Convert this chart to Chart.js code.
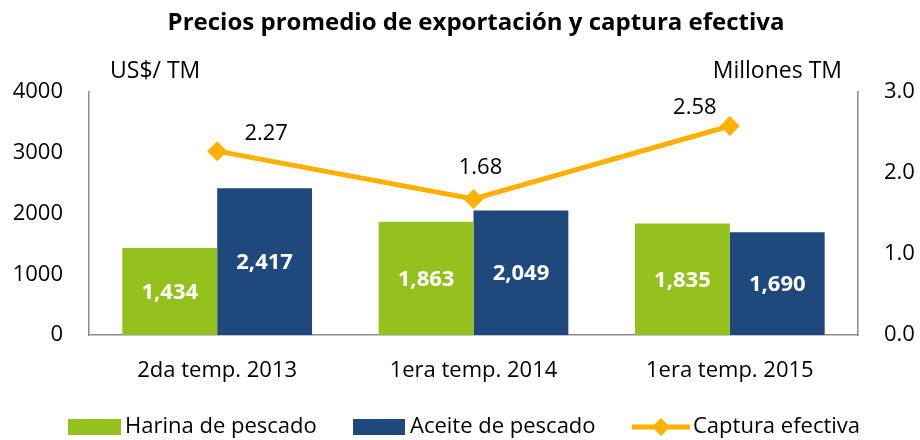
<!DOCTYPE html>
<html>
<head>
<meta charset="utf-8">
<script src="https://cdn.jsdelivr.net/npm/chart.js@4/dist/chart.umd.min.js"></script>
<style>
  html, body { margin: 0; padding: 0; background: #fff; }
  #wrap { width: 920px; height: 440px; position: relative; }
</style>
</head>
<body>
<div id="wrap"><canvas id="chart"></canvas></div>
<script>
// Precios promedio de exportación y captura efectiva
const categories = ['2da temp. 2013', '1era temp. 2014', '1era temp. 2015'];
const harina = [1434, 1863, 1835];   // US$/TM
const aceite = [2417, 2049, 1690];   // US$/TM
const captura = [2.27, 1.68, 2.58];  // millones TM

const leftTicks = [0, 1000, 2000, 3000, 4000];
const rightTicks = [0, 1, 2, 3];

const GREEN = '#95C11F';
const BLUE = '#1F497D';
const ORANGE = '#FFB000';
const AXIS = '#8C8C8C';
const FONT = '"Open Sans", sans-serif';

// label offsets for the line values (hand placed like in the original)
const lineLabelOffsets = [[49, -17], [7, -31], [-35, -18]];

const labelsPlugin = {
  id: 'labels',
  afterDatasetsDraw(chart) {
    const ctx = chart.ctx;
    ctx.save();
    ctx.textAlign = 'center';
    ctx.textBaseline = 'middle';
    // bar values
    ctx.font = 'bold 22px ' + FONT;
    ctx.fillStyle = '#fff';
    [0, 1].forEach((di) => {
      chart.getDatasetMeta(di).data.forEach((bar, i) => {
        const v = chart.data.datasets[di].data[i];
        ctx.fillText(v.toLocaleString('en-US'), bar.x, (bar.y + bar.base) / 2 + 1);
      });
    });
    // line values
    ctx.font = '22px ' + FONT;
    ctx.fillStyle = '#000';
    chart.getDatasetMeta(2).data.forEach((pt, i) => {
      const off = lineLabelOffsets[i];
      ctx.fillText(captura[i].toFixed(2), pt.x + off[0], pt.y + off[1]);
    });
    ctx.restore();
  },
  afterDraw(chart) {
    const ctx = chart.ctx;
    ctx.save();
    ctx.textBaseline = 'middle';
    // title
    ctx.font = 'bold 24px ' + FONT;
    ctx.fillStyle = '#000';
    ctx.textAlign = 'center';
    ctx.fillText('Precios promedio de exportación y captura efectiva', 476, 23);
    // axis units
    ctx.font = '23px ' + FONT;
    ctx.textAlign = 'left';
    ctx.fillText('US$/ TM', 110, 71);
    ctx.textAlign = 'right';
    ctx.fillText('Millones TM', 842, 71);

    // legend
    const ly = 427;
    ctx.textAlign = 'left';
    ctx.fillStyle = GREEN;
    ctx.fillRect(68, 419, 53, 16);
    ctx.fillStyle = BLUE;
    ctx.fillRect(353, 419, 52, 16);
    ctx.strokeStyle = ORANGE;
    ctx.lineWidth = 5;
    ctx.beginPath();
    ctx.moveTo(632, ly);
    ctx.lineTo(690, ly);
    ctx.stroke();
    ctx.fillStyle = ORANGE;
    ctx.beginPath();
    ctx.moveTo(661, ly - 9);
    ctx.lineTo(670, ly);
    ctx.lineTo(661, ly + 9);
    ctx.lineTo(652, ly);
    ctx.closePath();
    ctx.fill();
    ctx.fillStyle = '#000';
    ctx.font = '22px ' + FONT;
    ctx.fillText('Harina de pescado', 125, ly);
    ctx.fillText('Aceite de pescado', 410, ly);
    ctx.fillText('Captura efectiva', 693, ly);
    ctx.restore();
  },
};

new Chart(document.getElementById('chart'), {
  type: 'bar',
  data: {
    labels: categories,
    datasets: [
      {
        label: 'Harina de pescado',
        data: harina,
        backgroundColor: GREEN,
        yAxisID: 'y',
        order: 2,
        categoryPercentage: 0.74,
        barPercentage: 1.0,
      },
      {
        label: 'Aceite de pescado',
        data: aceite,
        backgroundColor: BLUE,
        yAxisID: 'y',
        order: 2,
        categoryPercentage: 0.74,
        barPercentage: 1.0,
      },
      {
        type: 'line',
        label: 'Captura efectiva',
        data: captura,
        borderColor: ORANGE,
        backgroundColor: ORANGE,
        borderWidth: 5,
        pointStyle: 'rectRot',
        pointRadius: 10,
        pointBorderWidth: 0,
        tension: 0,
        yAxisID: 'y1',
        order: 1,
      },
    ],
  },
  options: {
    responsive: true,
    maintainAspectRatio: false,
    animation: false,
    layout: { padding: { top: 92, left: 0, right: 0, bottom: 0 } },
    plugins: {
      legend: { display: false },
      title: { display: false },
      tooltip: { enabled: false },
    },
    scales: {
      x: {
        grid: { display: false, drawTicks: false },
        border: { display: true, color: AXIS, width: 1.5 },
        ticks: { color: '#000', font: { family: FONT, size: 22 }, padding: 23 },
        afterFit: (s) => { s.height = 105; },
      },
      y: {
        position: 'left',
        min: 0,
        max: 4000,
        afterBuildTicks: (s) => { s.ticks = leftTicks.map((v) => ({ value: v })); },
        grid: { display: false, drawTicks: false },
        border: { display: true, color: AXIS, width: 1.5 },
        ticks: {
          color: '#000',
          font: { family: FONT, size: 22 },
          padding: 26,
          callback: (v) => String(v),
        },
        afterFit: (s) => { s.width = 89; },
      },
      y1: {
        position: 'right',
        min: 0,
        max: 3,
        afterBuildTicks: (s) => { s.ticks = rightTicks.map((v) => ({ value: v })); },
        grid: { display: false, drawTicks: false },
        border: { display: true, color: AXIS, width: 1.5 },
        ticks: {
          color: '#000',
          font: { family: FONT, size: 22 },
          padding: 26,
          callback: (v) => Number(v).toFixed(1),
        },
        afterFit: (s) => { s.width = 62; },
      },
    },
  },
  plugins: [labelsPlugin],
});
</script>
</body>
</html>
